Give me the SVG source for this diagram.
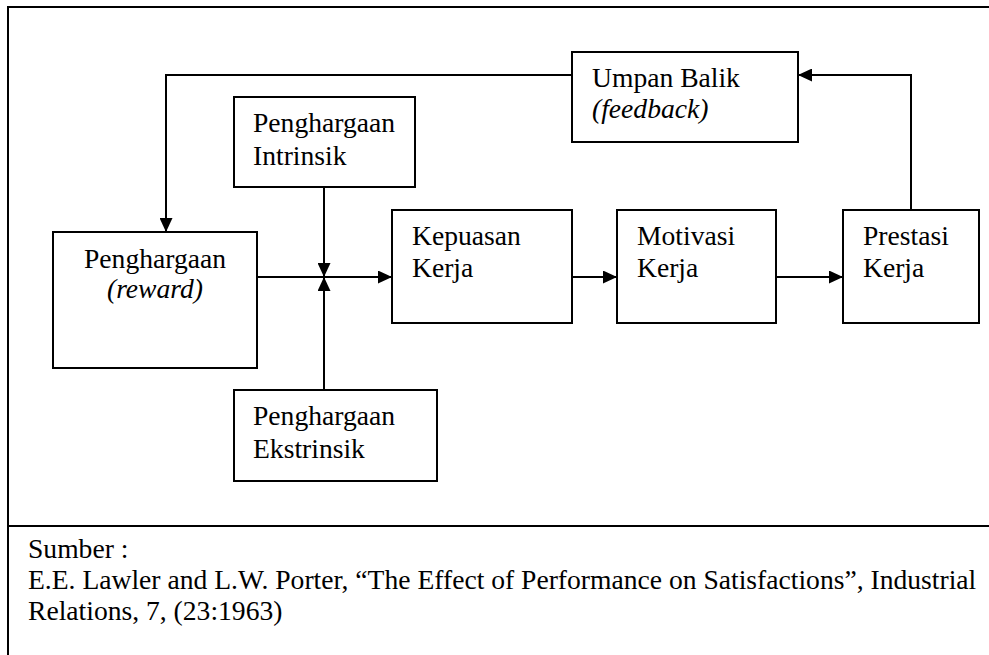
<svg xmlns="http://www.w3.org/2000/svg" width="989" height="655" viewBox="0 0 989 655">
<style>
.box{fill:#fff;stroke:#000;stroke-width:2}
.ln{fill:none;stroke:#000;stroke-width:2}
.t{font-family:"Liberation Serif","Times New Roman",serif;font-size:27.6px;fill:#000}
.i{font-style:italic}
</style>
<defs>
<marker id="ah" viewBox="0 0 14 13" refX="14" refY="6.5" markerWidth="14" markerHeight="13" markerUnits="userSpaceOnUse" orient="auto">
<path d="M0,0 L14,6.5 L0,13 Z" fill="#000"/>
</marker>
</defs>
<rect width="989" height="655" fill="#fff"/>
<g id="frame">
<path class="ln" d="M8,655 V7 H989"/>
<path class="ln" d="M8,526 H989"/>
</g>
<g id="connectors">
<path class="ln" d="M572,75 H166 V232" marker-end="url(#ah)"/>
<path class="ln" d="M911,210 V75 H798" marker-end="url(#ah)"/>
<path class="ln" d="M257,277 H392" marker-end="url(#ah)"/>
<path class="ln" d="M324,187 V277" marker-end="url(#ah)"/>
<path class="ln" d="M324,390 V277" marker-end="url(#ah)"/>
<path class="ln" d="M572,277 H617" marker-end="url(#ah)"/>
<path class="ln" d="M776,277 H843" marker-end="url(#ah)"/>
</g>
<g id="umpan">
<rect class="box" x="572" y="52" width="226" height="90"/>
<text class="t" x="592" y="87">Umpan Balik</text>
<text class="t i" x="592" y="118">(feedback)</text>
</g>
<g id="reward">
<rect class="box" x="53" y="232" width="204" height="136"/>
<text class="t" x="155" y="268" text-anchor="middle">Penghargaan</text>
<text class="t i" x="155" y="298" text-anchor="middle">(reward)</text>
</g>
<g id="intrinsik">
<rect class="box" x="234" y="97" width="181" height="90"/>
<text class="t" x="253" y="132">Penghargaan</text>
<text class="t" x="253" y="165">Intrinsik</text>
</g>
<g id="ekstrinsik">
<rect class="box" x="234" y="390" width="203" height="91"/>
<text class="t" x="253" y="425">Penghargaan</text>
<text class="t" x="253" y="458">Ekstrinsik</text>
</g>
<g id="kepuasan">
<rect class="box" x="392" y="210" width="180" height="113"/>
<text class="t" x="412" y="245">Kepuasan</text>
<text class="t" x="412" y="277">Kerja</text>
</g>
<g id="motivasi">
<rect class="box" x="617" y="210" width="159" height="113"/>
<text class="t" x="637" y="245">Motivasi</text>
<text class="t" x="637" y="277">Kerja</text>
</g>
<g id="prestasi">
<rect class="box" x="843" y="210" width="136" height="113"/>
<text class="t" x="863" y="245">Prestasi</text>
<text class="t" x="863" y="277">Kerja</text>
</g>
<g id="source">
<text class="t" x="28" y="558">Sumber :</text>
<text class="t" x="28" y="589">E.E. Lawler and L.W. Porter, “The Effect of Performance on Satisfactions”, Industrial</text>
<text class="t" x="28" y="620">Relations, 7, (23:1963)</text>
</g>
</svg>
